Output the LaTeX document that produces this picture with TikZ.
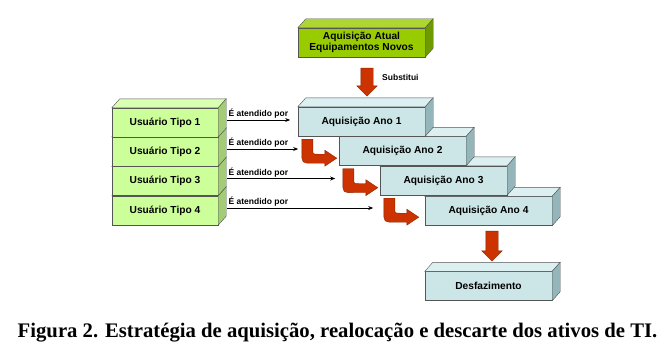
\documentclass[tikz,border=0pt]{standalone}
\usepackage{fontspec}
\setmainfont{Liberation Sans}
\newfontfamily\legenda{Liberation Serif}
\usetikzlibrary{shapes,arrows.meta,positioning,calc}

\definecolor{verdeF}{HTML}{99CC00}
\definecolor{verdeFt}{HTML}{ADD633}
\definecolor{verdeFl}{HTML}{6E9A00}
\definecolor{verdeC}{HTML}{CCFF99}
\definecolor{verdeCt}{HTML}{D9FFB0}
\definecolor{verdeCl}{HTML}{A2CC75}
\definecolor{azul}{HTML}{CCE6E8}
\definecolor{azulT}{HTML}{DCEFF1}
\definecolor{azulL}{HTML}{94B6BA}
\definecolor{vermelho}{HTML}{CC3300}
\definecolor{vermelhoE}{HTML}{8B2500}
\definecolor{borda}{HTML}{555555}

\begin{document}
\begin{tikzpicture}[x=1pt, y=-1pt,
    caixa/.style={rectangle, draw=borda, inner sep=0pt, minimum height=29pt, font=\fontsize{10.2}{11.5}\selectfont\bfseries, align=center},
    atual/.style={caixa, minimum width=127pt, fill=verdeF},
    atual-topo/.style={fill=verdeFt, draw=borda},
    atual-lado/.style={fill=verdeFl, draw=borda},
    usuario/.style={caixa, minimum width=106pt, fill=verdeC},
    usuario-topo/.style={fill=verdeCt, draw=borda},
    usuario-lado/.style={fill=verdeCl, draw=borda},
    ano/.style={caixa, minimum width=127pt, fill=azul},
    ano-topo/.style={fill=azulT, draw=borda},
    ano-lado/.style={fill=azulL, draw=borda},
    rotulo/.style={font=\fontsize{8.5}{9}\selectfont\bfseries, inner sep=1pt},
    seta/.style={-{Stealth[length=5pt,width=4pt]}, line width=0.9pt},
    bloco/.style={single arrow, rotate=-90, fill=vermelho, draw=vermelhoE, minimum width=20pt, single arrow head extend=4pt, inner xsep=0pt, inner ysep=6pt},
    curva/.style={fill=vermelho, draw=vermelhoE}
]
    \useasboundingbox[fill=white] (0,0) rectangle (671,361);

    % caixas com topo e lateral, de baixo para cima
    \foreach \nome/\est/\pos/\texto in {
        atual/atual/{361.5,42.5}/{Aquisição Atual\\Equipamentos Novos},
        desfaz/ano/{488.5,286}/Desfazimento,
        ano4/ano/{488.5,211}/Aquisição Ano 4,
        ano3/ano/{443.5,180.5}/Aquisição Ano 3,
        ano2/ano/{402.5,151}/Aquisição Ano 2,
        ano1/ano/{361.5,121.5}/Aquisição Ano 1,
        tipo4/usuario/{165,210.5}/Usuário Tipo 4,
        tipo3/usuario/{165,181}/Usuário Tipo 3,
        tipo2/usuario/{165,151.5}/Usuário Tipo 2,
        tipo1/usuario/{165,122.5}/Usuário Tipo 1} {
        \node[\est] (\nome) at (\pos) {\texto};
        \filldraw[\est-topo] (\nome.north west) -- ++(8,-9) -- ([shift={(8,-9)}]\nome.north east) -- (\nome.north east) -- cycle;
        \filldraw[\est-lado] (\nome.north east) -- ++(8,-9) -- ([shift={(8,-9)}]\nome.south east) -- (\nome.south east) -- cycle;
    }

    % setas de bloco
    \node[bloco, minimum height=28pt] (substitui) at (367,79) {};
    \node[rotulo, anchor=west] (subtxt) at (381,77) {Substitui};
    \node[bloco, minimum height=30pt] (descarte) at (492,243) {};

    % setas curvas entre os anos
    \foreach \i in {1,2,3}
        \filldraw[curva, shift={(ano\i.south west)}] (4,3) -- (15,3) -- (15,13) .. controls (15,18) .. (20,18) -- (27,18) -- (27,14) -- (39,22) -- (27,30) -- (27,27) -- (15,27) .. controls (4,27) .. (4,16) -- cycle;

    % atendimento
    \foreach \i/\comp in {1/63,2/71,3/108,4/146}
        \draw[seta] ([shift={(9,-2.5)}]tipo\i.east) -- ++(\comp,0) node[rotulo, pos=0, above right] {É atendido por};

    \node[font=\legenda\bfseries\fontsize{20.7}{22}\selectfont] (figura) at (337.5,333) {Figura 2. Estratégia de aquisição, realocação e descarte dos ativos de TI.};
\end{tikzpicture}
\end{document}
